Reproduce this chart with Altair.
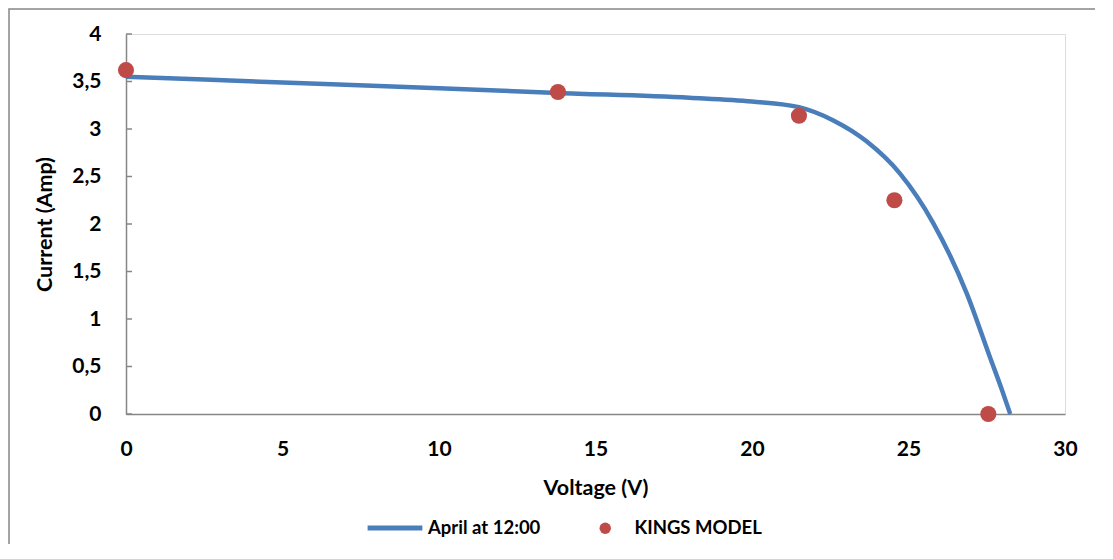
import altair as alt
import pandas as pd

# Measured curve "April at 12:00"
curve_v = [0, 5, 10, 13.8, 18, 20, 21.5, 22.6, 23.66, 24.73, 25.79, 26.86, 27.6, 28.0, 28.25]
curve_i = [3.55, 3.49, 3.43, 3.38, 3.33, 3.29, 3.23, 3.09, 2.87, 2.53, 2.01, 1.27, 0.60, 0.24, 0.0]

# KINGS MODEL points
kings_v = [0, 13.8, 21.5, 24.55, 27.55]
kings_i = [3.62, 3.39, 3.14, 2.25, 0.0]

y_ticks = [0, 0.5, 1, 1.5, 2, 2.5, 3, 3.5, 4]
x_ticks = [0, 5, 10, 15, 20, 25, 30]

series_line = "April at 12:00"
series_pts = "KINGS MODEL"

BLUE = "#4a7ebb"
RED = "#be4b48"
GRAY = "#868686"
FONT = "Lato"

curve_df = pd.DataFrame({"V": curve_v, "I": curve_i, "series": series_line})
kings_df = pd.DataFrame({"V": kings_v, "I": kings_i, "series": series_pts})
ytick_df = pd.DataFrame({"I": y_ticks})

x_scale = alt.Scale(domain=[0, 30], nice=False, zero=False)
y_scale = alt.Scale(domain=[0, 4], nice=False)

x_axis = alt.Axis(
    title="Voltage (V)", values=x_ticks, ticks=False, grid=False,
    labelFont=FONT, labelFontWeight="bold", labelFontSize=21, labelColor="black",
    labelPadding=24, titleFont=FONT, titleFontWeight="bold", titleFontSize=21.5,
    titleColor="black", titlePadding=18, domainColor=GRAY, domainWidth=1.5,
    labelFlush=False,
)
y_axis = alt.Axis(
    title="Current (Amp)", values=y_ticks, ticks=False, grid=False,
    labelFont=FONT, labelFontWeight="bold", labelFontSize=21, labelColor="black",
    labelPadding=25, titleFont=FONT, titleFontWeight="bold", titleFontSize=21.5,
    titleColor="black", titlePadding=15, domainColor=GRAY, domainWidth=1.5,
    labelExpr="replace(format(datum.value, '~g'), '.', ',')", labelFlush=False,
)

border = alt.Chart(pd.DataFrame({"a": [0]})).mark_rect(
    filled=False, stroke=GRAY, strokeWidth=1.5, clip=False
).encode(
    x=alt.value(-117), x2=alt.value(1100), y=alt.value(-25), y2=alt.value(600)
)

ticks = alt.Chart(ytick_df).mark_rule(color=GRAY, strokeWidth=1.5).encode(
    y=alt.Y("I:Q", scale=y_scale, axis=y_axis),
    x=alt.value(0), x2=alt.value(6),
)

line = alt.Chart(curve_df).mark_line(
    strokeWidth=4.5, interpolate="monotone", clip=False
).encode(
    x=alt.X("V:Q", scale=x_scale, axis=x_axis),
    y=alt.Y("I:Q", scale=y_scale, axis=y_axis),
    color=alt.Color(
        "series:N",
        scale=alt.Scale(domain=[series_line], range=[BLUE]),
        legend=alt.Legend(
            title=None, orient="none", legendX=239, legendY=464,
            symbolType="stroke", symbolSize=3000, symbolStrokeWidth=5,
            labelFont=FONT, labelFontWeight="bold", labelFontSize=18.5,
            labelColor="black", labelOffset=3,
        ),
    ),
)

points = alt.Chart(kings_df).mark_circle(size=260, opacity=1, clip=False).encode(
    x=alt.X("V:Q", scale=x_scale, axis=x_axis),
    y=alt.Y("I:Q", scale=y_scale, axis=y_axis),
    fill=alt.Fill(
        "series:N",
        scale=alt.Scale(domain=[series_pts], range=[RED]),
        legend=alt.Legend(
            title=None, orient="none", legendX=470, legendY=485,
            symbolType="circle", symbolSize=130,
            labelFont=FONT, labelFontWeight="bold", labelFontSize=18.5,
            labelColor="black", labelOffset=20,
        ),
    ),
)

chart = alt.layer(border, ticks, line, points).resolve_scale(
    color="independent", fill="independent"
).properties(
    width=939, height=380,
    autosize=alt.AutoSizeParams(type="none"),
    padding={"left": 118, "top": 26, "right": 30, "bottom": 130},
).configure_view(
    stroke=GRAY, strokeWidth=1.5
).configure(background="white")

chart.save("out.html", embed_options={"renderer": "svg", "actions": False})
